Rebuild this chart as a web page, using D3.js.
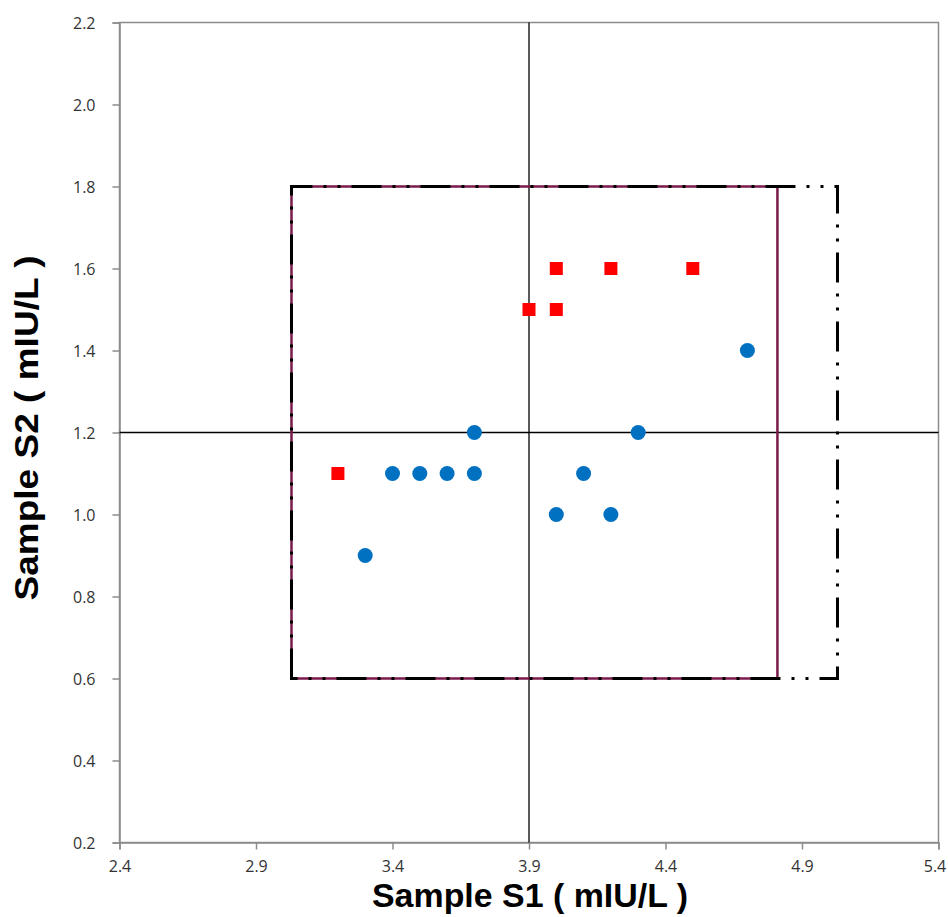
<!DOCTYPE html>
<html lang="en">
<head>
<meta charset="UTF-8">
<title>Sample S1 vs S2</title>
<script src="https://d3js.org/d3.v7.min.js"></script>
<style>
  body { margin:0; background:#fff; }
  svg { display:block; }
  .axisTitle { font-family:"Liberation Sans", Arial, sans-serif; font-weight:bold; font-size:34px; fill:#000; }
</style>
</head>
<body>
<div id="chart"></div>
<script>
// data
var redX = [3.2, 3.9, 4.0, 4.0, 4.2, 4.5];
var redY = [1.1, 1.5, 1.5, 1.6, 1.6, 1.6];
var blueX = [3.3, 3.4, 3.5, 3.6, 3.7, 3.7, 4.0, 4.1, 4.2, 4.3, 4.7];
var blueY = [0.9, 1.1, 1.1, 1.1, 1.1, 1.2, 1.0, 1.1, 1.0, 1.2, 1.4];
var xTicks = [2.4, 2.9, 3.4, 3.9, 4.4, 4.9, 5.4];
var yTicks = [0.2, 0.4, 0.6, 0.8, 1.0, 1.2, 1.4, 1.6, 1.8, 2.0, 2.2];
var crossX = 3.9, crossY = 1.2;
var innerBox = [3.03, 0.6, 4.81, 1.8];   // x0, y0, x1, y1
var outerBox = [3.03, 0.6, 5.03, 1.8];

var W = 948, H = 917;
var m = {left:119.5, right:948-938.5, top:22.5, bottom:917-842.5};

var svg = d3.select("#chart").append("svg").attr("width", W).attr("height", H);

var x = d3.scaleLinear().domain([2.4, 5.4]).range([m.left, W - m.right]);
var y = d3.scaleLinear().domain([0.2, 2.2]).range([H - m.bottom, m.top]);

// plot area border
svg.append("rect")
  .attr("x", x(2.4)).attr("y", y(2.2))
  .attr("width", x(5.4) - x(2.4)).attr("height", y(0.2) - y(2.2))
  .attr("fill", "none").attr("stroke", "#8c8c8c").attr("stroke-width", 1.5);

// axes
var xAxis = svg.append("g").attr("transform", "translate(0," + y(0.2) + ")")
  .call(d3.axisBottom(x).tickValues(xTicks).tickFormat(d3.format(".1f")).tickSize(7).tickPadding(11));
var yAxis = svg.append("g").attr("transform", "translate(" + x(2.4) + ",0)")
  .call(d3.axisLeft(y).tickValues(yTicks).tickFormat(d3.format(".1f")).tickSize(7).tickPadding(17));
[xAxis, yAxis].forEach(function(a){
  a.attr("font-size", 16).attr("font-family", "'Open Sans', 'Liberation Sans', sans-serif");
  a.select(".domain").attr("stroke", "#8c8c8c").attr("stroke-width", 1.5);
  a.selectAll(".tick line").attr("stroke", "#8c8c8c").attr("stroke-width", 1.5);
  a.selectAll(".tick text").attr("fill", "#333");
});
yAxis.selectAll(".tick text").attr("dy", "0.35em");
xAxis.selectAll(".tick text").filter(function(d){ return d === 5.4; }).attr("dx", -4);

// cross lines
svg.append("line")
  .attr("x1", x(crossX)).attr("x2", x(crossX)).attr("y1", y(2.2)).attr("y2", y(0.2))
  .attr("stroke", "#000").attr("stroke-width", 1.3);
svg.append("line")
  .attr("x1", x(2.4)).attr("x2", x(5.4)).attr("y1", y(crossY)).attr("y2", y(crossY))
  .attr("stroke", "#000").attr("stroke-width", 1.3);

function box(b) {
  return "M" + x(b[0]) + "," + y(b[1]) + "L" + x(b[0]) + "," + y(b[3]) +
         "L" + x(b[2]) + "," + y(b[3]) + "L" + x(b[2]) + "," + y(b[1]) + "Z";
}
// maroon solid box
svg.append("path").attr("d", box(innerBox))
  .attr("fill", "none").attr("stroke", "#7a1a4a").attr("stroke-width", 2.5);
// black dash-dot-dot box
svg.append("path").attr("d", box(outerBox))
  .attr("fill", "none").attr("stroke", "#000").attr("stroke-width", 3)
  .attr("stroke-dasharray", "30,11,3,11,3,11");

// points
svg.append("g").selectAll("circle").data(blueX).enter().append("circle")
  .attr("cx", function(d){ return x(d); })
  .attr("cy", function(d, i){ return y(blueY[i]); })
  .attr("r", 7.5).attr("fill", "#0070c0");

var s = 13;
svg.append("g").selectAll("rect").data(redX).enter().append("rect")
  .attr("x", function(d){ return x(d) - s / 2; })
  .attr("y", function(d, i){ return y(redY[i]) - s / 2; })
  .attr("width", s).attr("height", s).attr("fill", "#ff0000");

// axis titles
svg.append("text").attr("class", "axisTitle")
  .attr("x", 530).attr("y", 907).attr("text-anchor", "middle")
  .attr("textLength", 316).attr("lengthAdjust", "spacingAndGlyphs")
  .text("Sample S1 ( mIU/L )");
svg.append("text").attr("class", "axisTitle")
  .attr("transform", "translate(38,428) rotate(-90)").attr("text-anchor", "middle")
  .attr("textLength", 345).attr("lengthAdjust", "spacingAndGlyphs")
  .text("Sample S2 ( mIU/L )");
</script>
</body>
</html>
